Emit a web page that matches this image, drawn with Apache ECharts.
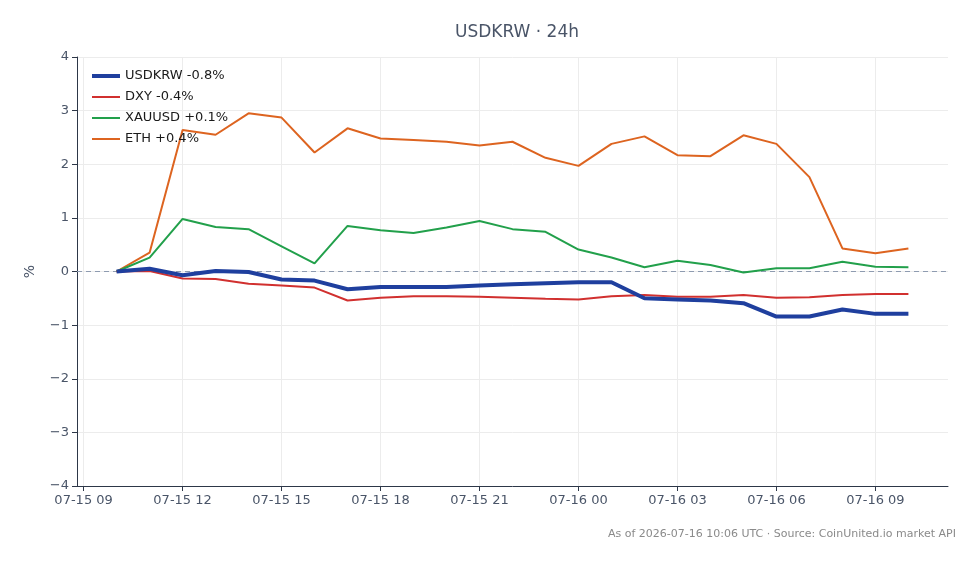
<!DOCTYPE html>
<html>
<head>
<meta charset="utf-8">
<script src="https://cdn.jsdelivr.net/npm/echarts@6/dist/echarts.min.js"></script>
<style>
  html, body { margin: 0; padding: 0; background: #fff; }
  #chart { width: 980px; height: 564px; }
</style>
</head>
<body>
<div id="chart"></div>
<script>
// 小时序列（07-15 10:00 到 07-16 10:00）
var times = [
  '07-15 10', '07-15 11', '07-15 12', '07-15 13', '07-15 14', '07-15 15',
  '07-15 16', '07-15 17', '07-15 18', '07-15 19', '07-15 20', '07-15 21',
  '07-15 22', '07-15 23', '07-16 00', '07-16 01', '07-16 02', '07-16 03',
  '07-16 04', '07-16 05', '07-16 06', '07-16 07', '07-16 08', '07-16 09',
  '07-16 10'
];
var tickLabels = ['07-15 09', '07-15 12', '07-15 15', '07-15 18', '07-15 21',
  '07-16 00', '07-16 03', '07-16 06', '07-16 09'];

var usdkrw = [0, 0.05, -0.07, 0.01, -0.01, -0.15, -0.17, -0.33, -0.29, -0.29,
  -0.29, -0.26, -0.24, -0.22, -0.20, -0.20, -0.50, -0.52, -0.54, -0.59,
  -0.84, -0.84, -0.71, -0.79, -0.79];
var dxy = [0, 0.01, -0.13, -0.14, -0.23, -0.26, -0.30, -0.54, -0.49, -0.46,
  -0.46, -0.47, -0.49, -0.51, -0.52, -0.46, -0.44, -0.47, -0.47, -0.44,
  -0.49, -0.48, -0.44, -0.42, -0.42];
var xauusd = [0, 0.26, 0.98, 0.83, 0.79, 0.47, 0.15, 0.85, 0.77, 0.72,
  0.82, 0.94, 0.79, 0.74, 0.41, 0.26, 0.08, 0.20, 0.12, -0.02,
  0.06, 0.06, 0.18, 0.09, 0.08];
var eth = [0, 0.35, 2.64, 2.55, 2.95, 2.87, 2.22, 2.67, 2.48, 2.45,
  2.42, 2.35, 2.42, 2.12, 1.97, 2.38, 2.52, 2.17, 2.15, 2.54,
  2.38, 1.76, 0.43, 0.34, 0.43];

// 'MM-DD HH' -> 从 07-15 00:00 起的小时数
function toHours(s) {
  var day = parseInt(s.slice(3, 5), 10);
  var hour = parseInt(s.slice(6, 8), 10);
  return (day - 15) * 24 + hour;
}
function pair(vals) {
  return vals.map(function (v, i) { return [toHours(times[i]), v]; });
}
var tickHours = tickLabels.map(toHours);
var labelByHour = {};
tickLabels.forEach(function (t) { labelByHour[toHours(t)] = t; });

// 5% 边距，与原图一致
var span = toHours(times[times.length - 1]) - toHours(times[0]);
var xMin = toHours(times[0]) - span * 0.05;
var xMax = toHours(times[times.length - 1]) + span * 0.05;

(function () {
  var myChart = echarts.init(document.getElementById('chart'));
  var axisColor = '#2d3748';
  var textColor = '#4a5568';
  var font = 'DejaVu Sans';
  var thickIcon = 'path://M0,0 L28,0 L28,4 L0,4 Z';
  var thinIcon = 'path://M0,0 L28,0 L28,2 L0,2 Z';

  function line(name, data, color, width, z) {
    return {
      name: name,
      type: 'line',
      data: pair(data),
      symbol: 'none',
      z: z,
      lineStyle: { color: color, width: width },
      itemStyle: { color: color },
      emphasis: { disabled: true }
    };
  }

  var series = [
    line('USDKRW -0.8%', usdkrw, '#1f3f9e', 4, 5),
    line('DXY -0.4%', dxy, '#d1302f', 2, 4),
    line('XAUUSD +0.1%', xauusd, '#22a04b', 2, 3),
    line('ETH +0.4%', eth, '#dd6420', 2, 2)
  ];
  series[0].markLine = {
    silent: true,
    symbol: ['none', 'none'],
    label: { show: false },
    lineStyle: { color: '#8e9bb0', type: [5, 4], width: 1 },
    data: [{ yAxis: 0 }],
    z: 1
  };

  var option = {
    animation: false,
    backgroundColor: '#fff',
    textStyle: { fontFamily: font },
    title: {
      text: 'USDKRW · 24h',
      left: 512,
      textAlign: 'center',
      top: 19,
      textStyle: { color: textColor, fontSize: 17, fontWeight: 'normal', fontFamily: font }
    },
    legend: {
      orient: 'vertical',
      left: 87,
      top: 64,
      itemWidth: 28,
      itemHeight: 14,
      itemGap: 7,
      symbolKeepAspect: true,
      textStyle: { color: '#1a1a1a', fontSize: 13, fontFamily: font, lineHeight: 14 },
      data: series.map(function (s, i) {
        return { name: s.name, icon: i === 0 ? thickIcon : thinIcon };
      })
    },
    graphic: [{
      type: 'text',
      right: 24,
      top: 529,
      style: {
        text: 'As of 2026-07-16 10:06 UTC · Source: CoinUnited.io market API',
        fill: '#8a8a8a',
        font: '11px "DejaVu Sans"'
      }
    }],
    grid: { left: 77, right: 32, top: 57, bottom: 78 },
    xAxis: {
      type: 'value',
      min: xMin,
      max: xMax,
      axisLine: { show: true, onZero: false, lineStyle: { color: axisColor, width: 1 } },
      axisTick: { show: true, length: 5, customValues: tickHours, lineStyle: { color: axisColor } },
      axisLabel: {
        customValues: tickHours,
        color: textColor,
        fontSize: 13,
        margin: 8,
        formatter: function (v) { return labelByHour[v] || ''; }
      },
      splitLine: { show: true, lineStyle: { color: '#ececec', width: 1 } }
    },
    yAxis: {
      type: 'value',
      min: -4,
      max: 4,
      interval: 1,
      name: '%',
      nameLocation: 'middle',
      nameGap: 40,
      nameRotate: 90,
      nameTextStyle: { color: textColor, fontSize: 14 },
      axisLine: { show: true, lineStyle: { color: axisColor, width: 1 } },
      axisTick: { show: true, length: 5, lineStyle: { color: axisColor } },
      axisLabel: {
        color: textColor,
        fontSize: 13,
        margin: 8,
        formatter: function (v) { return v < 0 ? '\u2212' + Math.abs(v) : String(v); }
      },
      splitLine: { show: true, lineStyle: { color: '#ececec', width: 1 } }
    },
    series: series
  };

  option && myChart.setOption(option);
  window.addEventListener('resize', function () {
    myChart.resize();
  });
})();
</script>
</body>
</html>
